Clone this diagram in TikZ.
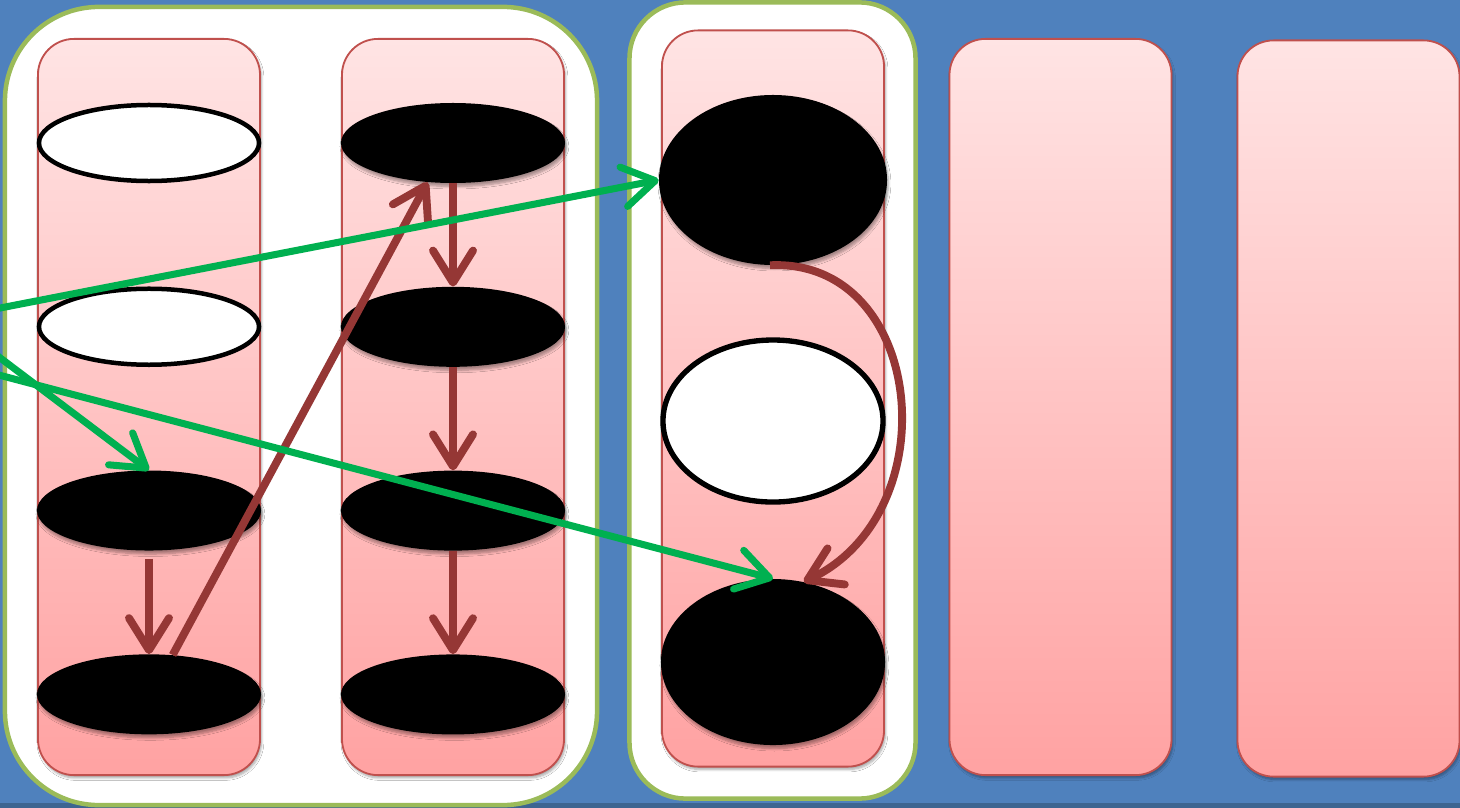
\documentclass[tikz,border=0pt]{standalone}
\usepackage{tikz}
\usetikzlibrary{arrows.meta,positioning,shapes.geometric,shadows.blur}
\definecolor{sky}{HTML}{4F81BD}
\definecolor{skydark}{HTML}{3D6591}
\definecolor{leaf}{HTML}{9BBB59}
\definecolor{brick}{HTML}{C0504D}
\definecolor{rust}{HTML}{953735}
\definecolor{signal}{HTML}{00B050}
\definecolor{blushtop}{HTML}{FFE4E4}
\definecolor{blushbot}{HTML}{FFA2A2}
\tikzset{
  panel/.style={draw=leaf,fill=white,line width=3.2pt,rounded corners=#1},
  lane/.style={draw=brick,line width=1.3pt,top color=blushtop,bottom color=blushbot,rounded corners=0.9cm,minimum width=5.55cm,minimum height=18.4cm,blur shadow={shadow xshift=1pt,shadow yshift=-2pt,shadow blur steps=6,shadow opacity=35}},
  hollow/.style={ellipse,draw=black,fill=white,line width=3.2pt,minimum width=5.5cm,minimum height=1.9cm},
  blackdisc/.style={ellipse,fill=black,minimum width=5.6cm,minimum height=2cm,blur shadow={shadow xshift=1pt,shadow yshift=-2.5pt,shadow blur steps=6,shadow opacity=35}},
  flow/.style={-{Straight Barb[length=8mm,width=10mm,round]},line width=5.6pt,draw=rust},
  feed/.style={-{Straight Barb[length=8mm,width=10mm,round]},line width=5pt,draw=signal}
}

\begin{document}
\begin{tikzpicture}[x=0.025cm,y=-0.025cm,node distance=2.58cm]
  \useasboundingbox (0,0) rectangle (1460,808);
  \fill[sky] (0,0) rectangle (1460,808);
  \fill[skydark] (0,803) rectangle (1460,808);

  % white frames
  \node[panel=2.35cm,minimum width=14.8cm,minimum height=19.95cm] (p1) at (301,406) {};
  \node[panel=1.4cm,minimum width=7.15cm,minimum height=19.9cm] (p2) at (772.5,400.5) {};

  % columns
  \node[lane] (c1) at (149,407) {};
  \node[lane] (c2) at (453,407) {};
  \node[lane] (c3) at (773,398.5) {};
  \node[lane] (c4) at (1060.5,407) {};
  \node[lane] (c5) at (1348.5,408.5) {};

  % first column
  \node[hollow] (a1) at (149,143) {};
  \node[hollow,below=of a1] (a2) {};
  \node[blackdisc,below=of a2] (a3) {};
  \node[blackdisc,below=of a3] (a4) {};

  % second column
  \node[blackdisc] (b1) at (453,143) {};
  \node[blackdisc,below=of b1] (b2) {};
  \node[blackdisc,below=of b2] (b3) {};
  \node[blackdisc,below=of b3] (b4) {};

  % third column
  \node[blackdisc,minimum width=5.7cm,minimum height=4.25cm] (d1) at (773,180) {};
  \node[hollow,line width=3.8pt,minimum width=5.5cm,minimum height=4.05cm,below=1.8cm of d1] (d2) {};
  \node[blackdisc,minimum height=4.15cm,below=1.85cm of d2] (d3) {};

  \draw[flow] (b1) -- (b2);
  \draw[flow] (b2) -- (b3);
  \draw[flow] (b3) -- (b4);
  \draw[flow,shorten <=0.2cm] (a3) -- (a4);
  \draw[flow] (a4.59) -- (b1.237);
  \draw[flow] (d1.-92) .. controls (925,258) and (950,512) .. (d3.69);

  % incoming lines
  \coordinate (inA) at (-5,309);
  \coordinate (inB) at (-5,354);
  \coordinate (inC) at (-5,374);
  \draw[feed] (inA) -- (d1.west);
  \draw[feed] (inB) -- (a3.north);
  \draw[feed] (inC) -- (d3.north);
\end{tikzpicture}
\end{document}
